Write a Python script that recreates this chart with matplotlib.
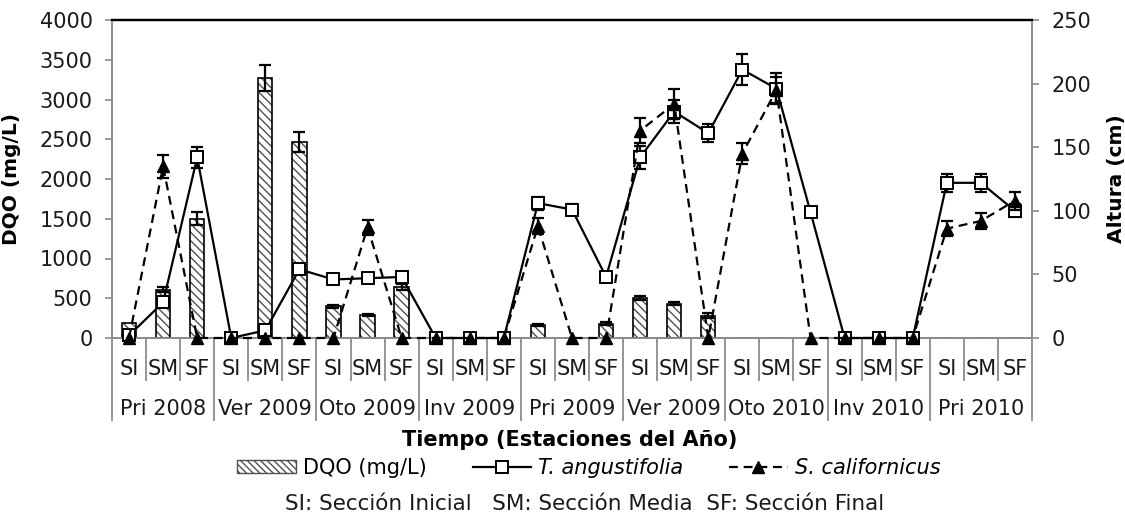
import matplotlib
matplotlib.use('Agg')
import matplotlib.pyplot as plt
import numpy as np
from matplotlib.patches import Patch
from matplotlib.lines import Line2D
import matplotlib.transforms as mtransforms

plt.rcParams['font.family'] = ['DejaVu Sans']

# ---------------- data ----------------
sections = ['SI', 'SM', 'SF'] * 9
seasons = ['Pri 2008', 'Ver 2009', 'Oto 2009', 'Inv 2009', 'Pri 2009',
           'Ver 2009', 'Oto 2010', 'Inv 2010', 'Pri 2010']

dqo = [190, 610, 1500, 0, 3270, 2470, 400, 290, 640,
       0, 0, 0, 160, 0, 180, 505, 430, 280,
       0, 0, 0, 0, 0, 0, 0, 0, 0]
dqo_err = [0, 30, 80, 0, 165, 125, 20, 15, 40,
           0, 0, 0, 10, 0, 15, 25, 20, 30,
           0, 0, 0, 0, 0, 0, 0, 0, 0]

t_angustifolia = [2, 28, 142, 0, 6, 54, 46, 47, 48,
                  0, 0, 0, 106, 101, 48, 142, 178, 161,
                  211, 196, 99, 0, 0, 0, 122, 122, 100]
t_err = [2, 4, 8, 0, 3, 4, 3, 3, 4,
         0, 0, 0, 5, 4, 3, 9, 9, 7,
         12, 12, 4, 0, 0, 0, 7, 7, 5]

s_californicus = [0, 135, 0, 0, 0, 0, 0, 87, 0,
                  0, 0, 0, 88, 0, 0, 163, 184, 0,
                  145, 195, 0, 0, 0, 0, 86, 92, 108]
s_err = [0, 9, 0, 0, 0, 0, 0, 6, 0,
         0, 0, 0, 6, 0, 0, 10, 12, 0,
         8, 10, 0, 0, 0, 0, 6, 6, 7]

# ---------------- figure ----------------
W, H = 1125, 514
fig = plt.figure(figsize=(W / 100, H / 100), dpi=100)
L, R, T, B = 112, 1032, 20, 338
ax = fig.add_axes([L / W, 1 - B / H, (R - L) / W, (B - T) / H])

FS = 15
GRAY = '#8c8c8c'
TXT = '#1a1a1a'
x = np.arange(len(sections))

ax.bar(x, dqo, width=0.42, color='white', edgecolor='#505050',
       hatch='\\\\\\\\', linewidth=0, zorder=2)
ax.bar(x, dqo, width=0.42, fill=False, edgecolor='black', linewidth=1.2, zorder=3)
xe = [i for i in x if dqo_err[i] > 0]
ax.errorbar(xe, [dqo[i] for i in xe], yerr=[dqo_err[i] for i in xe], fmt='none',
            ecolor='black', elinewidth=1.6, capsize=4, capthick=1.6, zorder=4)

ax.set_xlim(-0.5, len(sections) - 0.5)
ax.set_ylim(0, 4000)
ax.set_yticks(np.arange(0, 4001, 500))
ax.set_xticks([])
ax.tick_params(axis='y', direction='out', length=5, width=1.2, color=GRAY,
               labelsize=FS, labelcolor=TXT, pad=9)

ax2 = ax.twinx()
ax2.set_ylim(0, 250)
ax2.set_yticks(np.arange(0, 251, 50))
ax2.tick_params(axis='y', direction='out', length=5, width=1.2, color=GRAY,
                labelsize=FS, labelcolor=TXT, pad=9)

te = [i for i in x if t_err[i] > 0]
ax2.errorbar(te, [t_angustifolia[i] for i in te], yerr=[t_err[i] for i in te],
             fmt='none', ecolor='black', elinewidth=1.6, capsize=4, capthick=1.6,
             zorder=3)
ax2.plot(x, t_angustifolia, color='black', lw=1.6, marker='s', ms=8,
         mfc='white', mec='black', mew=1.4, clip_on=False, zorder=4)
se = [i for i in x if s_err[i] > 0]
ax2.errorbar(se, [s_californicus[i] for i in se], yerr=[s_err[i] for i in se],
             fmt='none', ecolor='black', elinewidth=1.6, capsize=4, capthick=1.6,
             zorder=5)
ax2.plot(x, s_californicus, color='black', lw=1.6, dashes=(4, 2.6), marker='^',
         ms=8.5, mfc='black', mec='black', clip_on=False, zorder=6)

for a in (ax, ax2):
    a.spines['top'].set_color('black')
    a.spines['top'].set_linewidth(1.6)
    a.spines['left'].set_color(GRAY)
    a.spines['right'].set_color(GRAY)
    a.spines['bottom'].set_color(GRAY)
    for s in ('left', 'right', 'bottom'):
        a.spines[s].set_linewidth(1.3)

ax.set_ylabel('DQO (mg/L)', fontsize=14.5, fontweight='bold')
ax.yaxis.set_label_coords((21 - L) / (R - L), 0.5)
ax2.set_ylabel('Altura (cm)', fontsize=14.5, fontweight='bold', rotation=90)
ax2.yaxis.set_label_coords((1107 - L) / (R - L), 0.5)

# two-level category axis
trans = mtransforms.blended_transform_factory(ax.transData, ax.transAxes)
ph = B - T
y_small = -(380 - B) / ph
y_group = -(420 - B) / ph
y_sec = -(375 - B) / ph
y_sea = -(415 - B) / ph
for i in range(len(sections) + 1):
    xb = i - 0.5
    yend = y_group if i % 3 == 0 else y_small
    ax.plot([xb, xb], [0, yend], transform=trans, color=GRAY, lw=1.3,
            clip_on=False, zorder=1)
for i, lab in enumerate(sections):
    ax.text(i, y_sec, lab, transform=trans, ha='center', va='baseline',
            fontsize=FS, color=TXT)
for g, lab in enumerate(seasons):
    ax.text(3 * g + 1, y_sea, lab, transform=trans, ha='center', va='baseline',
            fontsize=FS, color=TXT)

fig.text(570 / W, 1 - 446 / H, 'Tiempo (Estaciones del Año)',
         ha='center', va='baseline', fontsize=FS, fontweight='bold')

handles = [
    Patch(facecolor='white', edgecolor='#505050', hatch='\\\\\\\\\\', linewidth=1.0),
    Line2D([], [], color='black', lw=1.6, marker='s', ms=8, mfc='white', mec='black', mew=1.4),
    Line2D([], [], color='black', lw=1.6, dashes=(4, 2.6), marker='^', ms=8.5, mfc='black'),
]
labels = ['DQO (mg/L)', 'T. angustifolia', 'S. californicus']
leg = fig.legend(handles, labels, loc='center', bbox_to_anchor=(589 / W, 1 - 468 / H),
                 ncol=3, frameon=False, fontsize=FS, handlelength=2.8,
                 handleheight=0.58, handletextpad=0.35, columnspacing=2.2,
                 borderpad=0)
for t in leg.get_texts()[1:]:
    t.set_style('italic')

fig.text(585 / W, 1 - 510 / H,
         'SI: Sección Inicial   SM: Sección Media  SF: Sección Final',
         ha='center', va='baseline', fontsize=15.5, color=TXT)

fig.savefig('out.png', dpi=100)
